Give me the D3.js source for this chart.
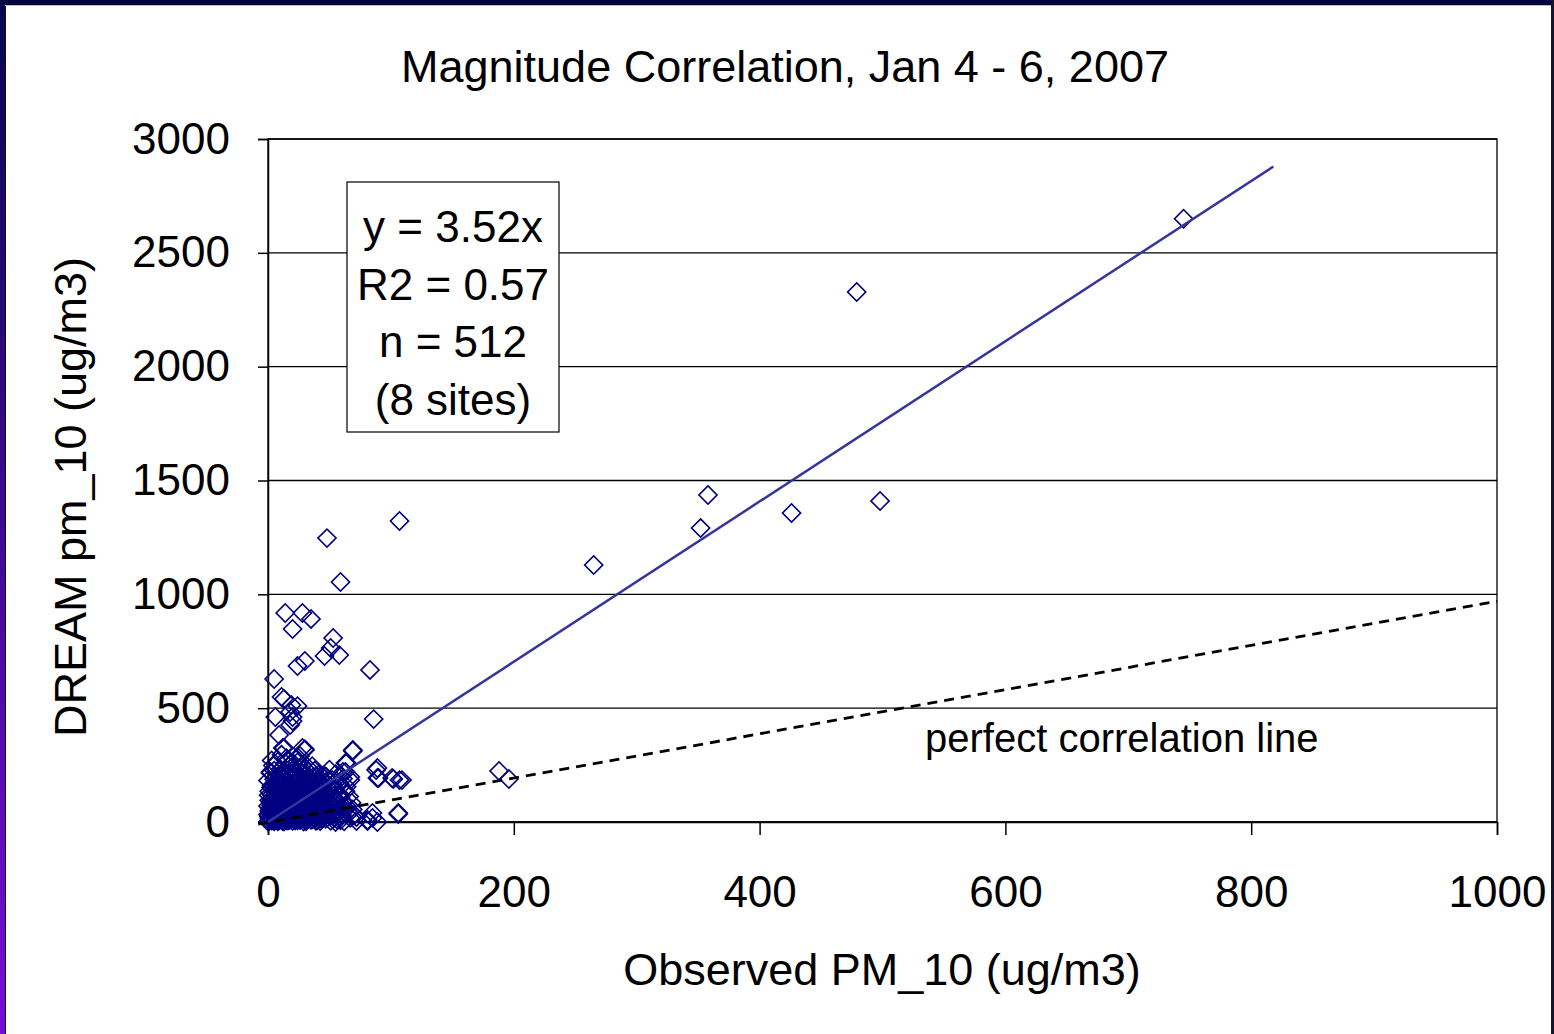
<!DOCTYPE html>
<html>
<head>
<meta charset="utf-8">
<script src="https://cdn.jsdelivr.net/npm/d3@7"></script>
<style>
  body { margin: 0; background: #fff; }
  svg text { font-family: "Liberation Sans", Arial, sans-serif; fill: #000; }
</style>
</head>
<body>
<div id="chart"></div>
<script>
const width = 1554;
const height = 1034;
const margin = { top: 139, right: 57, bottom: 212, left: 268 };

// Tick values
const xTicks = [0, 200, 400, 600, 800, 1000];
const yTicks = [0, 500, 1000, 1500, 2000, 2500, 3000];

// Observed vs DREAM, the scattered points read one by one
const outlierPoints = [
  [745, 2650], [479, 2328], [358, 1436], [352, 1291], [426, 1357], [498, 1410],
  [265, 1129], [107, 1322], [48, 1247], [59, 1054], [14, 918], [28, 918],
  [35, 892], [20, 848], [53, 808], [51, 764], [58, 733], [46, 729], [83, 668],
  [5, 628], [24, 685], [30, 707], [13, 540], [11, 549], [18, 483], [24, 509],
  [19, 514], [20, 444], [20, 461], [6, 461], [18, 426], [86, 452], [9, 382],
  [69, 312], [69, 316], [30, 320], [30, 316], [13, 325], [12, 325], [28, 325],
  [24, 285], [16, 272], [63, 259], [64, 259], [61, 220], [63, 220], [67, 184],
  [67, 198], [88, 228], [89, 237], [90, 193], [89, 193], [107, 184], [102, 189],
  [101, 193], [109, 184], [2, 215], [188, 224], [196, 189], [106, 35], [106, 40],
  [60, 35], [85, 18], [85, 40], [89, 0], [72, 4], [72, 22], [81, 4], [81, 9],
  [55, 0], [59, 22], [60, 61], [59, 110]
];

// Observed vs DREAM, the dense cluster near the origin
const clusterPoints = [
  [0, 2], [1, 18], [3, 6], [2, 40], [4, 27], [5, 3], [6, 58], [7, 15], [8, 34], [9, 8],
  [10, 71], [11, 24], [12, 4], [13, 49], [14, 12], [15, 88], [16, 36], [17, 7], [18, 62], [19, 20],
  [1, 95], [2, 63], [3, 120], [4, 81], [5, 44], [6, 107], [7, 29], [8, 76], [9, 115], [10, 52],
  [11, 99], [12, 33], [13, 84], [14, 118], [15, 57], [16, 10], [17, 102], [18, 43], [19, 79], [20, 5],
  [0, 70], [2, 88], [4, 12], [6, 21], [8, 97], [10, 14], [12, 110], [14, 68], [16, 85], [18, 26],
  [1, 5], [3, 54], [5, 78], [7, 113], [9, 38], [11, 9], [13, 66], [15, 23], [17, 50], [19, 93],
  [2, 17], [5, 112], [8, 3], [11, 61], [14, 39], [17, 75], [20, 30], [3, 85], [6, 36], [9, 64],
  [12, 47], [15, 104], [18, 11], [0, 33], [4, 100], [7, 68], [10, 91], [13, 2], [16, 55], [19, 115],
  [21, 14], [22, 48], [23, 92], [24, 7], [25, 63], [26, 31], [27, 118], [28, 19], [29, 76], [30, 44],
  [31, 3], [32, 101], [33, 55], [34, 26], [35, 86], [36, 12], [37, 130], [38, 40], [39, 67], [40, 8],
  [41, 95], [42, 35], [43, 58], [44, 16], [45, 110], [21, 125], [23, 38], [25, 141], [27, 57], [29, 2],
  [31, 72], [33, 17], [35, 124], [37, 49], [39, 98], [41, 22], [43, 137], [45, 66], [22, 80], [24, 108],
  [26, 9], [28, 89], [30, 138], [32, 24], [34, 61], [36, 105], [38, 15], [40, 79], [42, 121], [44, 46],
  [21, 60], [24, 132], [27, 26], [30, 104], [33, 83], [36, 47], [39, 5], [42, 70], [45, 32], [23, 150],
  [26, 98], [29, 122], [32, 66], [35, 10], [38, 91], [41, 146], [44, 84], [22, 6], [25, 85], [28, 143],
  [31, 52], [34, 113], [37, 20], [40, 128], [43, 99], [46, 56], [47, 14], [48, 88], [49, 41], [50, 117],
  [1, 135], [3, 160], [5, 188], [7, 142], [9, 205], [11, 168], [13, 226], [15, 150], [17, 192], [19, 240],
  [21, 175], [23, 212], [25, 163], [27, 236], [29, 180], [31, 158], [33, 219], [35, 171], [37, 198], [39, 152],
  [41, 185], [43, 166], [45, 204], [2, 220], [4, 248], [6, 176], [8, 265], [10, 230], [12, 145], [14, 258],
  [16, 208], [18, 170], [20, 226], [22, 196], [24, 262], [26, 185], [28, 214], [30, 170], [32, 242], [34, 190],
  [36, 155], [38, 225], [40, 172], [42, 210], [44, 158], [0, 182], [3, 270], [9, 178], [15, 280], [20, 260],
  [26, 290], [31, 205], [36, 245], [11, 295], [5, 225], [17, 215], [28, 250], [33, 168], [39, 200], [14, 192],
  [46, 130], [47, 175], [48, 20], [49, 150], [50, 62], [51, 5], [52, 105], [53, 36], [54, 140], [55, 78],
  [56, 12], [57, 160], [58, 50], [59, 118], [60, 28], [61, 92], [62, 3], [63, 135], [64, 70], [65, 45],
  [66, 112], [67, 18], [68, 85], [69, 55], [70, 30], [52, 185], [55, 210], [58, 170], [61, 190], [64, 155],
  [47, 200], [50, 230], [53, 165], [56, 95], [59, 8], [62, 68], [48, 125], [51, 88], [54, 20], [57, 120],
  [0.5, 26], [2.5, 74], [4.5, 139], [6.5, 9], [8.5, 52], [10.5, 123], [12.5, 18], [14.5, 96], [16.5, 161], [18.5, 37],
  [20.5, 108], [22.5, 22], [24.5, 87], [26.5, 146], [28.5, 41], [30.5, 12], [32.5, 128], [34.5, 79], [36.5, 33], [38.5, 152],
  [40.5, 56], [42.5, 4], [44.5, 125], [1.5, 57], [3.5, 31], [5.5, 164], [7.5, 89], [9.5, 21], [11.5, 136], [13.5, 101],
  [15.5, 6], [17.5, 133], [19.5, 47], [21.5, 93], [23.5, 171], [25.5, 16], [27.5, 82], [29.5, 155], [31.5, 35], [33.5, 99],
  [35.5, 58], [37.5, 111], [39.5, 29], [41.5, 77], [43.5, 13], [0.5, 117], [2.5, 152], [4.5, 66], [6.5, 197], [8.5, 131],
  [10.5, 183], [12.5, 72], [14.5, 210], [16.5, 120], [18.5, 194], [20.5, 149], [22.5, 181], [24.5, 53], [26.5, 201], [28.5, 109],
  [30.5, 187], [32.5, 91], [34.5, 148], [36.5, 179], [38.5, 64], [40.5, 107], [42.5, 143], [44.5, 28], [46.5, 97], [48.5, 60],
  [1, 48], [3, 102], [6, 128], [9, 92], [12, 160], [15, 42], [18, 135], [21, 38], [24, 174], [27, 95],
  [30, 20], [33, 132], [36, 74], [39, 120], [42, 45], [45, 90], [48, 52], [51, 28], [53, 74], [55, 40]
];

// Fitted line y = 3.52x and the drawn 1:1 line
const trendLine = [[0, 0], [818, 2879]];
const perfectLine = [[-8, -9], [1000, 970]];

const statsLines = ["y = 3.52x", "R2 = 0.57", "n = 512", "(8 sites)"];

const svg = d3.select("#chart")
  .append("svg")
    .attr("width", width)
    .attr("height", height);

// Slide frame
const defs = svg.append("defs");
const grad = defs.append("linearGradient")
  .attr("id", "leftbar")
  .attr("x1", 0).attr("y1", 0).attr("x2", 0).attr("y2", 1);
grad.append("stop").attr("offset", "0%").attr("stop-color", "#05064e");
grad.append("stop").attr("offset", "100%").attr("stop-color", "#760ed8");

svg.append("rect").attr("x", 0).attr("y", 0).attr("width", 5).attr("height", height).attr("fill", "url(#leftbar)");
svg.append("rect").attr("x", 5).attr("y", 0).attr("width", 1).attr("height", height).attr("fill", "#111");
svg.append("rect").attr("x", 0).attr("y", 0).attr("width", width).attr("height", 5).attr("fill", "#03053f");
svg.append("rect").attr("x", 5).attr("y", 5).attr("width", width).attr("height", 1).attr("fill", "#bbb");
svg.append("rect").attr("x", 1551).attr("y", 0).attr("width", 3).attr("height", height).attr("fill", "#14142a");

const xScale = d3.scaleLinear()
  .domain([0, 1000])
  .range([margin.left, width - margin.right]);

const yScale = d3.scaleLinear()
  .domain([0, 3000])
  .range([height - margin.bottom, margin.top]);

// Horizontal gridlines
svg.append("g")
  .selectAll("line")
  .data(yTicks)
  .join("line")
    .attr("x1", xScale(0))
    .attr("x2", xScale(1000))
    .attr("y1", d => yScale(d))
    .attr("y2", d => yScale(d))
    .attr("stroke", "#000")
    .attr("stroke-width", 1.3);

// Plot border
svg.append("rect")
  .attr("x", xScale(0))
  .attr("y", yScale(3000))
  .attr("width", xScale(1000) - xScale(0))
  .attr("height", yScale(0) - yScale(3000))
  .attr("fill", "none")
  .attr("stroke", "#000")
  .attr("stroke-width", 1.3);

// Axes
const bottomAxis = d3.axisBottom(xScale)
  .tickValues(xTicks)
  .tickFormat(d3.format("d"))
  .tickSizeOuter(0)
  .tickSize(13)
  .tickPadding(41);
const xAxisG = svg.append("g")
  .attr("transform", `translate(0, ${yScale(0)})`)
  .call(bottomAxis);

const leftAxis = d3.axisLeft(yScale)
  .tickValues(yTicks)
  .tickFormat(d3.format("d"))
  .tickSizeOuter(0)
  .tickSize(10)
  .tickPadding(28);
const yAxisG = svg.append("g")
  .attr("transform", `translate(${xScale(0)}, 0)`)
  .call(leftAxis);

[xAxisG, yAxisG].forEach(g => {
  g.selectAll("path, line").attr("stroke", "#000").attr("stroke-width", 1.5);
  g.selectAll("text")
    .style("font-family", '"Liberation Sans", Arial, sans-serif')
    .style("font-size", "44px")
    .attr("fill", "#000");
});

// Points
const diamond = d3.symbol(d3.symbolSquare, 165);
svg.append("g")
  .selectAll("path")
  .data(clusterPoints.concat(outlierPoints))
  .join("path")
    .attr("d", diamond)
    .attr("transform", d => `translate(${xScale(d[0])}, ${yScale(d[1])}) rotate(45)`)
    .attr("fill", "none")
    .attr("stroke", "#000080")
    .attr("stroke-width", 1.6);

const lineGen = d3.line()
  .x(d => xScale(d[0]))
  .y(d => yScale(d[1]));

// Perfect correlation line (dashed)
svg.append("path")
  .attr("d", lineGen(perfectLine))
  .attr("fill", "none")
  .attr("stroke", "#000")
  .attr("stroke-width", 2.8)
  .attr("stroke-dasharray", "10 7");

// Trend line
svg.append("path")
  .attr("d", lineGen(trendLine))
  .attr("fill", "none")
  .attr("stroke", "#35359c")
  .attr("stroke-width", 2.5);

// Title
svg.append("text")
  .attr("x", 785)
  .attr("y", 82)
  .attr("text-anchor", "middle")
  .style("font-size", "45px")
  .text("Magnitude Correlation, Jan 4 - 6, 2007");

// Axis labels
svg.append("text")
  .attr("x", 882)
  .attr("y", 985)
  .attr("text-anchor", "middle")
  .style("font-size", "45px")
  .text("Observed PM_10 (ug/m3)");

svg.append("text")
  .attr("transform", "translate(86, 497) rotate(-90)")
  .attr("text-anchor", "middle")
  .style("font-size", "45px")
  .text("DREAM pm_10 (ug/m3)");

// Stats box
svg.append("rect")
  .attr("x", 347)
  .attr("y", 182)
  .attr("width", 212)
  .attr("height", 250)
  .attr("fill", "#fff")
  .attr("stroke", "#000")
  .attr("stroke-width", 1.2);

svg.append("g")
  .selectAll("text")
  .data(statsLines)
  .join("text")
    .attr("x", 453)
    .attr("y", (d, i) => 242 + i * 57.5)
    .attr("text-anchor", "middle")
    .style("font-size", "44px")
    .text(d => d);

// Perfect line note
svg.append("text")
  .attr("x", 925)
  .attr("y", 752)
  .style("font-size", "40px")
  .text("perfect correlation line");
</script>
</body>
</html>
